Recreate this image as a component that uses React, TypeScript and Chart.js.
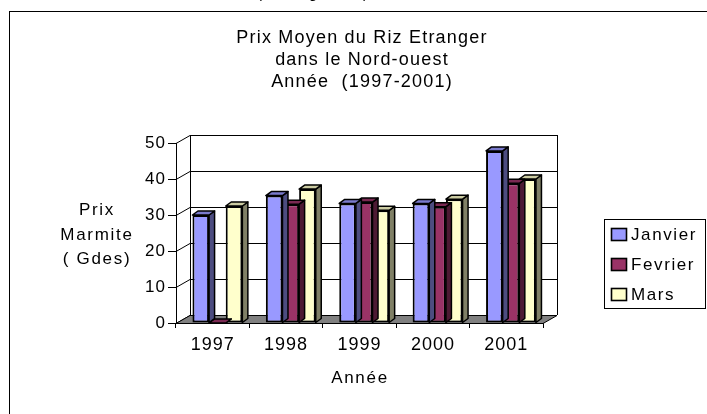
import React, { useEffect, useRef } from "react";
import { Chart, registerables } from "chart.js";

Chart.register(...registerables);

const years = ["1997", "1998", "1999", "2000", "2001"];
const janvier = [30, 35.4, 33.2, 33.2, 47.8];
const fevrier = [0, 33, 33.6, 32.3, 38.8];
const mars = [32.5, 37.2, 31.3, 34.4, 40];
const seriesNames = ["Janvier", "Fevrier", "Mars"];
const yTicks = [0, 10, 20, 30, 40, 50];
const titleLines = ["Prix Moyen du Riz Etranger", "dans le Nord-ouest", "Année  (1997-2001)"];
const yTitleLines = ["Prix", "Marmite", "( Gdes)"];
const xTitle = "Année";
const clippedCaption = "(Riz en gourdes)";

const FRONT = ["#9999FF", "#993366", "#FFFFCC"];
const SIDE = ["#4D4D80", "#4D1A33", "#808066"];
const TOP = ["#7A7ACC", "#7A2952", "#CCCCA3"];
const FONT = "'Liberation Sans', Arial, sans-serif";

const WALL_DX = 14;
const WALL_DY = -8;
const BAR_DX = 5.5;
const BAR_DY = -4;
const BAR_SHIFT = 4.7;

const threeD = {
  id: "threeD",
  beforeDraw(chart: any) {
    const ctx = chart.ctx;
    ctx.save();
    ctx.fillStyle = "#fff";
    ctx.fillRect(0, 0, chart.width, chart.height);
    ctx.strokeStyle = "#000";
    ctx.lineWidth = 1;
    ctx.strokeRect(9.5, 11.5, 760, 460);
    ctx.fillStyle = "#000";
    ctx.font = `15px ${FONT}`;
    ctx.textAlign = "left";
    ctx.textBaseline = "alphabetic";
    ctx.fillText(clippedCaption, 257, -2);
    ctx.restore();
    ctx.letterSpacing = "1px";
  },
  beforeDatasetsDraw(chart: any) {
    const { ctx, chartArea: a, scales } = chart;
    const y = scales.y;
    ctx.save();
    ctx.fillStyle = "#fff";
    ctx.fillRect(a.left + WALL_DX, a.top + WALL_DY, a.right - a.left, a.bottom - a.top);
    ctx.strokeStyle = "#000";
    ctx.lineWidth = 1;
    for (const v of yTicks) {
      const py = Math.round(y.getPixelForValue(v)) + 0.5;
      ctx.beginPath();
      ctx.moveTo(a.left, py);
      ctx.lineTo(a.left + WALL_DX, py + WALL_DY);
      ctx.lineTo(a.right + WALL_DX, py + WALL_DY);
      ctx.stroke();
    }
    ctx.beginPath();
    ctx.moveTo(a.left + WALL_DX + 0.5, a.top + WALL_DY);
    ctx.lineTo(a.left + WALL_DX + 0.5, a.bottom + WALL_DY);
    ctx.moveTo(a.right + WALL_DX + 0.5, a.top + WALL_DY);
    ctx.lineTo(a.right + WALL_DX + 0.5, a.bottom + WALL_DY);
    ctx.stroke();
    ctx.fillStyle = "#808080";
    ctx.beginPath();
    ctx.moveTo(a.left, a.bottom + 0.5);
    ctx.lineTo(a.right, a.bottom + 0.5);
    ctx.lineTo(a.right + WALL_DX, a.bottom + WALL_DY + 0.5);
    ctx.lineTo(a.left + WALL_DX, a.bottom + WALL_DY + 0.5);
    ctx.closePath();
    ctx.fill();
    ctx.stroke();
    ctx.restore();
  },
  beforeDatasetDraw(chart: any) {
    chart.ctx.save();
    chart.ctx.translate(BAR_SHIFT, 0);
  },
  afterDatasetDraw(chart: any, args: any) {
    const ctx = chart.ctx;
    const i = args.index;
    const meta = chart.getDatasetMeta(i);
    ctx.lineWidth = 1.5;
    ctx.strokeStyle = "#000";
    ctx.lineJoin = "round";
    for (const el of meta.data) {
      const p = el.getProps(["x", "y", "base", "width"], true);
      const l = p.x - p.width / 2;
      const r = p.x + p.width / 2;
      const top = Math.min(p.y, p.base);
      const base = Math.max(p.y, p.base);
      ctx.fillStyle = SIDE[i];
      ctx.beginPath();
      ctx.moveTo(r, top);
      ctx.lineTo(r + BAR_DX, top + BAR_DY);
      ctx.lineTo(r + BAR_DX, base + BAR_DY);
      ctx.lineTo(r, base);
      ctx.closePath();
      ctx.fill();
      ctx.stroke();
      ctx.fillStyle = TOP[i];
      ctx.beginPath();
      ctx.moveTo(l, top);
      ctx.lineTo(r, top);
      ctx.lineTo(r + BAR_DX, top + BAR_DY);
      ctx.lineTo(l + BAR_DX, top + BAR_DY);
      ctx.closePath();
      ctx.fill();
      ctx.stroke();
    }
    ctx.restore();
  },
  afterDraw(chart: any) {
    const ctx = chart.ctx;
    ctx.save();
    ctx.fillStyle = "#000";
    ctx.textBaseline = "alphabetic";
    ctx.font = `18px ${FONT}`;
    ctx.letterSpacing = "1.2px";
    ctx.textAlign = "center";
    const tb = [42.5, 64.5, 86.5];
    titleLines.forEach((t, k) => ctx.fillText(t, 362, tb[k]));
    ctx.font = `17px ${FONT}`;
    ctx.letterSpacing = "1.7px";
    const yb = [215, 240, 264];
    yTitleLines.forEach((t, k) => ctx.fillText(t, 97, yb[k]));
    ctx.fillText(xTitle, 360, 383);
    ctx.fillStyle = "#fff";
    ctx.fillRect(604.5, 219.5, 101, 89);
    ctx.strokeStyle = "#000";
    ctx.lineWidth = 1;
    ctx.strokeRect(604.5, 219.5, 101, 89);
    const ly = [234.5, 264.5, 294.5];
    ctx.textAlign = "left";
    ctx.letterSpacing = "1.6px";
    seriesNames.forEach((n, k) => {
      ctx.fillStyle = FRONT[k];
      ctx.fillRect(611.5, ly[k] - 6, 15, 12);
      ctx.lineWidth = 1.6;
      ctx.strokeRect(611.5, ly[k] - 6, 15, 12);
      ctx.fillStyle = "#000";
      ctx.fillText(n, 631, ly[k] + 5);
    });
    ctx.restore();
  },
};

export default function App() {
  const ref = useRef<HTMLCanvasElement>(null);
  useEffect(() => {
    const series = [janvier, fevrier, mars];
    const chart = new Chart(ref.current as HTMLCanvasElement, {
      type: "bar",
      data: {
        labels: years,
        datasets: series.map((d, i) => ({
          label: seriesNames[i],
          data: d,
          backgroundColor: FRONT[i],
          borderColor: "#000",
          borderWidth: 2,
          borderSkipped: false,
          categoryPercentage: 0.68,
          barPercentage: 1,
          clip: false as any,
        })),
      },
      options: {
        responsive: false,
        devicePixelRatio: 1,
        animation: false,
        events: [],
        layout: { padding: { top: 143, right: 164, left: 0, bottom: 0 } },
        plugins: {
          legend: { display: false },
          tooltip: { enabled: false },
          title: { display: false },
        },
        scales: {
          x: {
            ticks: { color: "#000", font: { family: FONT, size: 18 }, padding: 6 },
            grid: { offset: true, drawOnChartArea: false, drawTicks: true, tickLength: 5, color: "#000" },
            border: { display: true, color: "#000", width: 1 },
            afterFit: (s: any) => {
              s.height = 91;
            },
          },
          y: {
            min: 0,
            max: 50,
            ticks: { stepSize: 10, color: "#000", font: { family: FONT, size: 17 }, padding: 2 },
            grid: { drawOnChartArea: false, drawTicks: true, tickLength: 8, color: "#000" },
            border: { display: true, color: "#000", width: 1 },
            afterFit: (s: any) => {
              s.width = 176;
            },
          },
        },
      },
      plugins: [threeD],
    });
    return () => chart.destroy();
  }, []);
  return (
    <div style={{ position: "fixed", left: 0, top: 0, width: 707, height: 414, background: "#fff" }}>
      <canvas ref={ref} width={707} height={414} style={{ display: "block", width: 707, height: 414 }} />
    </div>
  );
}
